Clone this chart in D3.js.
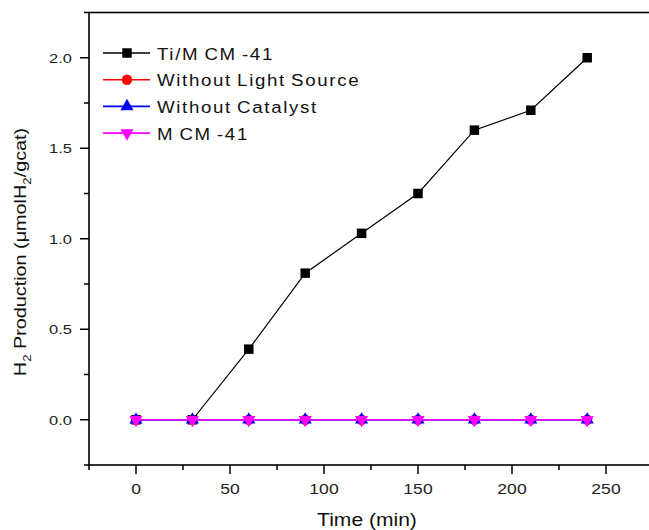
<!DOCTYPE html>
<html>
<head>
<meta charset="utf-8">
<script src="https://cdn.jsdelivr.net/npm/d3@7/dist/d3.min.js"></script>
<style>
  body { margin: 0; background: #fff; }
  svg { display: block; font-family: "Liberation Sans", Arial, sans-serif; }
</style>
</head>
<body>
<svg id="chart" width="649" height="530"></svg>
<script>
// data
const times = [0, 30, 60, 90, 120, 150, 180, 210, 240];
const tiMCM41 = [0, 0, 0.39, 0.81, 1.03, 1.25, 1.60, 1.71, 2.00];
const withoutLight = [0, 0, 0, 0, 0, 0, 0, 0, 0];
const withoutCatalyst = [0, 0, 0, 0, 0, 0, 0, 0, 0];
const mcm41 = [0, 0, 0, 0, 0, 0, 0, 0, 0];

const seriesNames = ["Ti/M CM -41", "Without Light Source", "Without Catalyst", "M CM -41"];
const xTicks = [0, 50, 100, 150, 200, 250];
const yTicks = [0.0, 0.5, 1.0, 1.5, 2.0];

const svg = d3.select("#chart");

const plotLeft = 89, plotTop = 12.5, plotBottom = 465;
const stretch = 1.17; //the original text looks a bit wide

//scales
const x = d3.scaleLinear().domain([-25, 275]).range([plotLeft, plotLeft + 564]);
const y = d3.scaleLinear().domain([-0.25, 2.25]).range([plotBottom, plotTop]);

const series = [
    { name: seriesNames[0], values: tiMCM41, color: "#000000", symbol: d3.symbolSquare, size: 90, rot: 0 },
    { name: seriesNames[1], values: withoutLight, color: "#ff0000", symbol: d3.symbolCircle, size: 85, rot: 0 },
    { name: seriesNames[2], values: withoutCatalyst, color: "#0000ff", symbol: d3.symbolTriangle, size: 75, rot: 0 },
    { name: seriesNames[3], values: mcm41, color: "#ff00ff", symbol: d3.symbolTriangle, size: 75, rot: 180 }
];

//frame
svg.append("rect")
    .attr("x", x(-25))
    .attr("y", y(2.25))
    .attr("width", x(275) - x(-25))
    .attr("height", y(-0.25) - y(2.25))
    .attr("fill", "none")
    .attr("stroke", "#000")
    .attr("stroke-width", 1.6);

//x axis ticks
const xMinor = d3.range(-25, 276, 50);
const xAxisG = svg.append("g");
xAxisG.selectAll(".maj").data(xTicks).enter().append("line")
    .attr("x1", d => x(d)).attr("x2", d => x(d))
    .attr("y1", plotBottom).attr("y2", plotBottom + 9)
    .attr("stroke", "#000").attr("stroke-width", 1.5);
xAxisG.selectAll(".min").data(xMinor).enter().append("line")
    .attr("x1", d => x(d)).attr("x2", d => x(d))
    .attr("y1", plotBottom).attr("y2", plotBottom + 5)
    .attr("stroke", "#000").attr("stroke-width", 1.5);
xAxisG.selectAll("text").data(xTicks).enter().append("text")
    .attr("transform", d => `translate(${x(d)},${plotBottom + 29}) scale(${stretch},1)`)
    .attr("text-anchor", "middle")
    .style("font-size", "15px")
    .attr("fill", "#222")
    .text(d => d);

//y axis ticks
const yMinor = d3.range(-0.25, 2.26, 0.5);
const yAxisG = svg.append("g");
yAxisG.selectAll(".maj").data(yTicks).enter().append("line")
    .attr("x1", plotLeft - 9).attr("x2", plotLeft)
    .attr("y1", d => y(d)).attr("y2", d => y(d))
    .attr("stroke", "#000").attr("stroke-width", 1.5);
yAxisG.selectAll(".min").data(yMinor).enter().append("line")
    .attr("x1", plotLeft - 5).attr("x2", plotLeft)
    .attr("y1", d => y(d)).attr("y2", d => y(d))
    .attr("stroke", "#000").attr("stroke-width", 1.5);
yAxisG.selectAll("text").data(yTicks).enter().append("text")
    .attr("transform", d => `translate(${plotLeft - 17},${y(d) + 5}) scale(1.22,1)`)
    .attr("text-anchor", "end")
    .style("font-size", "13.5px")
    .attr("fill", "#222")
    .text(d => d.toFixed(1));

//axis titles
svg.append("text")
    .attr("transform", `translate(367,526) scale(${stretch},1)`)
    .attr("text-anchor", "middle")
    .style("font-size", "18px")
    .attr("fill", "#111")
    .text("Time (min)");

const yTitle = svg.append("text")
    .attr("transform", "translate(26,252) rotate(-90) scale(1.2,1)")
    .attr("text-anchor", "middle")
    .style("font-size", "16.5px")
    .attr("fill", "#111");
yTitle.append("tspan").text("H");
yTitle.append("tspan").attr("dy", 5).style("font-size", "11px").text("2");
yTitle.append("tspan").attr("dy", -5).text(" Production (μmolH");
yTitle.append("tspan").attr("dy", 5).style("font-size", "11px").text("2");
yTitle.append("tspan").attr("dy", -5).text("/gcat)");

//lines and markers
const line = d3.line()
    .x((d, i) => x(times[i]))
    .y(d => y(d));

series.forEach(s => {
    const g = svg.append("g");
    g.append("path")
        .datum(s.values)
        .attr("fill", "none")
        .attr("stroke", s.color)
        .attr("stroke-width", s.color === "#000000" ? 1.2 : 1.6)
        .attr("d", line);
    g.selectAll("path.pt").data(s.values).enter().append("path")
        .attr("class", "pt")
        .attr("transform", (d, i) => `translate(${x(times[i])},${y(d)}) rotate(${s.rot})`)
        .attr("d", d3.symbol().type(s.symbol).size(s.size))
        .attr("fill", s.color);
});

//legend
const legend = svg.append("g").attr("transform", "translate(103,53)");
const rowH = 26.7;
series.forEach((s, i) => {
    const row = legend.append("g").attr("transform", `translate(0,${i * rowH})`);
    row.append("line")
        .attr("x1", 0).attr("x2", 47)
        .attr("stroke", s.color).attr("stroke-width", 1.6);
    row.append("path")
        .attr("transform", `translate(24,0) rotate(${s.rot})`)
        .attr("d", d3.symbol().type(s.symbol).size(s.size))
        .attr("fill", s.color);
    row.append("text")
        .attr("transform", "translate(54,6.5) scale(1.1,1)")
        .style("font-size", "17px")
        .style("letter-spacing", "1.5px")
        .style("word-spacing", "-1.5px")
        .attr("fill", "#111")
        .text(s.name);
});
</script>
</body>
</html>
